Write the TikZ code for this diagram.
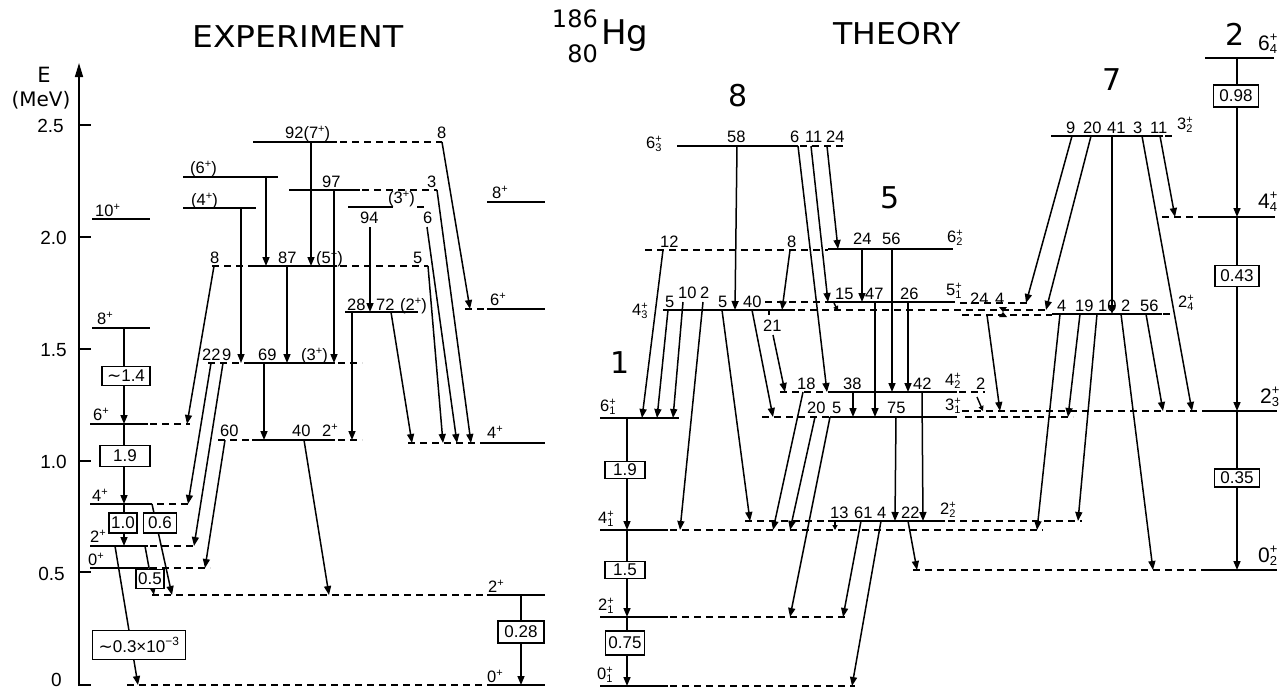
\documentclass[tikz,border=0pt]{standalone}
\usepackage{fontspec}
\setmainfont{DejaVu Sans}
\newfontfamily\labf{Liberation Sans}
\usetikzlibrary{arrows.meta}
\newcommand\tld{{\normalfont ∼}}
\newcommand\pl{\raisebox{5.5pt}{\fontsize{11}{11}\selectfont+}}
\newcommand\lv[2]{#1\rlap{\raisebox{6pt}{\fontsize{11}{11}\selectfont+}}\raisebox{-3.5pt}{\fontsize{11}{11}\selectfont#2}}
\newcommand\lvB[2]{#1\rlap{\raisebox{9pt}{\fontsize{13}{13}\selectfont+}}\raisebox{-3pt}{\fontsize{13}{13}\selectfont#2}}
\newcommand\Ls[3]{\draw[lev] (#1,#3) -- (#2,#3);}
\newcommand\Ld[3]{\draw[dlev] (#1,#3) -- (#2,#3);}
\newcommand\Tr[4]{\draw[tr] (#1,#2) -- (#3,#4);}
\newcommand\La[3]{\node[lab] at (#1,#2) {#3};}
\begin{document}
\begin{tikzpicture}[x=1pt,y=-1pt,
 lev/.style={line width=2.7pt},
 dlev/.style={line width=1.9pt,dash pattern=on 7pt off 5pt},
 tr/.style={line width=1.5pt,-{Triangle[length=9pt,width=7pt]}},
 tinyarr/.style={line width=1.4pt,-{Triangle[length=5pt,width=5pt]}},
 lab/.style={anchor=base west,inner sep=0pt,font=\labf\fontsize{16.5}{16.5}\selectfont},
 labB/.style={anchor=base west,inner sep=0pt,font=\labf\fontsize{21}{21}\selectfont},
 tk/.style={anchor=base east,inner sep=0pt,font=\labf\fontsize{19}{19}\selectfont},
 bx/.style={draw,line width=1.5pt,fill=white,inner sep=0pt,font=\labf\fontsize{17}{17}\selectfont},
 big/.style={inner sep=0pt,font=\fontsize{30}{30}\selectfont}]
\useasboundingbox (0,0) rectangle (1285,691);

% ---------------- titles
\node[big,xscale=1.1] (texp) at (298,37) {EXPERIMENT};
\node[big,xscale=1.05] (tth) at (897,34) {THEORY};
\node[anchor=base east,inner sep=0pt,font=\fontsize{24}{24}\selectfont] (mass) at (598,27) {186};
\node[anchor=base east,inner sep=0pt,font=\fontsize{24}{24}\selectfont] (zz) at (598,62) {80};
\node[anchor=base west,inner sep=0pt,font=\fontsize{34}{34}\selectfont] (hg) at (601,44) {Hg};

% ---------------- axis
\draw[line width=1.6pt,-{Triangle[length=14pt,width=8pt]}] (79,686) -- (79,63);
\foreach \yy in {125,237,349,461,572,685} \draw[line width=1.6pt] (79,\yy) -- (91,\yy);
\node[inner sep=0pt,font=\fontsize{21}{21}\selectfont] (eax) at (44,75) {E};
\node[inner sep=0pt,font=\fontsize{20}{20}\selectfont] (mev) at (41,100) {(MeV)};
\node[tk] at (64,132) {2.5};
\node[tk] at (67,244) {2.0};
\node[tk] at (67,356) {1.5};
\node[tk] at (67,468) {1.0};
\node[tk] at (65,580) {0.5};
\node[tk] at (62,686) {0};

% ---------------- EXPERIMENT levels
\Ls{92}{150}{219}
\Ls{92}{150}{328}
\Ls{90}{148}{424} \Ld{150}{190}{424}
\Ls{90}{152}{504} \Ld{157}{190}{504}
\Ls{90}{148}{546} \Ld{150}{195}{546}
\Ls{90}{148}{568} \Ld{150}{210}{568}
\Ld{152}{487}{595} \Ls{487}{545}{595}
\Ld{127}{487}{685} \Ls{487}{545}{685}
\Ld{408}{487}{443} \Ls{487}{545}{443}
\Ld{465}{487}{309} \Ls{487}{545}{309}
\Ls{487}{545}{202}
\Ls{183}{278}{177}
\Ls{183}{256}{208}
\Ls{253}{337}{142} \Ld{340}{442}{142}
\Ls{289}{360}{190} \Ld{362}{437}{190}
\Ls{348}{393}{207} \Ld{417}{427}{207}
\Ld{212}{250}{266} \Ls{250}{337}{266} \Ld{340}{428}{266}
\Ls{345}{418}{312}
\Ld{208}{250}{363} \Ls{250}{335}{363} \Ld{338}{362}{363}
\Ld{218}{252}{440} \Ls{252}{335}{440} \Ld{338}{362}{440}

% ---------------- EXPERIMENT transitions
\Tr{124}{328}{124}{424}
\Tr{124}{424}{124}{504}
\Tr{124}{504}{124}{546}
\Tr{115}{546}{138}{685}
\Tr{152}{504}{172}{595}
\Tr{145}{546}{154}{595}
\Tr{521}{595}{521}{685}
\Tr{266}{177}{266}{266}
\Tr{311}{142}{311}{266}
\Tr{334}{190}{334}{363}
\Tr{241}{208}{241}{363}
\Tr{287}{266}{287}{363}
\Tr{264}{363}{264}{440}
\Tr{370}{227}{370}{312}
\Tr{352}{312}{352}{440}
\Tr{391}{312}{412}{443}
\Tr{428}{266}{443}{443}
\Tr{427}{227}{457}{443}
\Tr{437}{190}{471}{443}
\Tr{442}{142}{470}{309}
\Tr{214}{266}{187}{424}
\Tr{211}{363}{188}{504}
\Tr{223}{363}{194}{546}
\Tr{225}{440}{205}{568}
\Tr{304}{440}{329}{595}

% ---------------- EXPERIMENT boxes
\node[bx,minimum width=48pt,minimum height=19pt] (b1) at (126,376) {\tld1.4};
\node[bx,minimum width=50pt,minimum height=21pt] (b2) at (125,456) {1.9};
\node[bx,minimum width=28pt,minimum height=20pt] (b3) at (123,523) {1.0};
\node[bx,minimum width=33pt,minimum height=20pt] (b4) at (160,523) {0.6};
\node[bx,minimum width=28pt,minimum height=19pt] (b5) at (150,579) {0.5};
\node[bx,minimum width=93pt,minimum height=29pt] (b6) at (139,645) {\tld0.3×10\textsuperscript{−3}};
\node[bx,minimum width=46pt,minimum height=22pt] (b7) at (521,632) {0.28};

% ---------------- EXPERIMENT labels
\La{95}{216}{10\pl}
\La{97}{324}{8\pl}
\La{93}{420}{6\pl}
\La{92}{501}{4\pl}
\La{90}{542}{2\pl}
\La{88}{565}{0\pl}
\La{190}{173}{(6\pl)}
\La{191}{205}{(4\pl)}
\La{285}{138}{92(7\pl)}
\La{437}{138}{8}
\La{322}{187}{97}
\La{427}{187}{3}
\La{388}{203}{(3\pl)}
\La{360}{223}{94}
\La{423}{223}{6}
\La{210}{263}{8}
\La{278}{263}{87}
\La{316}{263}{(5\pl)}
\La{413}{263}{5}
\La{347}{310}{28}
\La{376}{310}{72}
\La{400}{310}{(2\pl)}
\La{202}{360}{22}
\La{222}{360}{9}
\La{258}{360}{69}
\La{301}{360}{(3\pl)}
\La{220}{436}{60}
\La{292}{436}{40}
\La{322}{436}{2\pl}
\La{492}{198}{8\pl}
\La{490}{305}{6\pl}
\La{487}{438}{4\pl}
\La{488}{592}{2\pl}
\La{487}{682}{0\pl}

% ---------------- THEORY levels
\Ls{600}{679}{418}
\Ls{600}{668}{530} \Ld{670}{1043}{530}
\Ls{600}{668}{617} \Ld{670}{847}{617}
\Ls{600}{668}{686} \Ld{670}{855}{686}
\Ls{677}{798}{146} \Ld{800}{843}{146}
\Ld{645}{828}{250} \Ls{828}{953}{249}
\Ls{663}{795}{310} \Ld{798}{1047}{310}
\Ld{765}{828}{302} \Ls{828}{955}{302} \Ld{960}{1030}{303}
\Ld{962}{1052}{315} \Ls{1052}{1162}{314} \Ld{1163}{1173}{314}
\Ls{1051}{1163}{136} \Ld{1165}{1175}{136}
\Ls{1205}{1274}{58}
\Ld{1162}{1205}{217} \Ls{1205}{1275}{217}
\Ld{780}{828}{392} \Ls{828}{957}{392} \Ld{959}{985}{392}
\Ld{762}{830}{417} \Ls{830}{957}{417} \Ld{965}{1073}{417}
\Ld{962}{1208}{411} \Ls{1208}{1277}{411}
\Ld{745}{828}{521} \Ls{828}{945}{521} \Ld{948}{1082}{521}
\Ld{913}{1208}{570} \Ls{1208}{1277}{570}

% ---------------- THEORY transitions
\Tr{627}{418}{627}{530}
\Tr{627}{530}{627}{617}
\Tr{627}{617}{627}{686}
\Tr{1237}{58}{1237}{217}
\Tr{1237}{217}{1237}{411}
\Tr{1237}{411}{1237}{570}
\Tr{737}{146}{735}{310}
\Tr{798}{146}{827}{392}
\Tr{811}{146}{828}{302}
\Tr{827}{146}{838}{249}
\Tr{663}{250}{642}{418}
\Tr{790}{250}{782}{310}
\Tr{862}{249}{862}{302}
\Tr{892}{249}{892}{392}
\Tr{668}{310}{657}{418}
\Tr{683}{302}{673}{418}
\Tr{703}{302}{680}{530}
\Tr{722}{310}{750}{521}
\Tr{752}{310}{773}{417}
\draw[line width=1.4pt] (769,310) -- (769,315);
\Tr{773}{335}{785}{392}
\draw[tinyarr] (834,303) -- (838,311);
\Tr{875}{302}{875}{417}
\Tr{908}{302}{908}{392}
\Tr{803}{392}{773}{530}
\Tr{853}{392}{853}{417}
\Tr{922}{392}{923}{521}
\draw[tinyarr] (977,397) -- (983,411);
\Tr{815}{417}{790}{530}
\Tr{830}{417}{790}{617}
\Tr{896}{417}{895}{521}
\draw[tinyarr] (835,521) -- (835,530);
\Tr{861}{521}{843}{617}
\Tr{881}{521}{852}{686}
\Tr{908}{521}{917}{570}
\Tr{987}{315}{1000}{411}
\fill (999,307) -- (1007,307) -- (1003,312) -- cycle;
\fill (999,317) -- (1007,317) -- (1003,312) -- cycle;
\Tr{1072}{136}{1026}{303}
\Tr{1091}{136}{1046}{310}
\Tr{1112}{136}{1112}{314}
\Tr{1142}{136}{1192}{411}
\Tr{1160}{136}{1175}{217}
\Tr{1060}{314}{1037}{530}
\Tr{1080}{314}{1068}{417}
\Tr{1097}{314}{1078}{521}
\Tr{1121}{314}{1153}{570}
\Tr{1146}{314}{1163}{411}

% ---------------- THEORY boxes
\node[bx,minimum width=40pt,minimum height=17pt] (c1) at (625,470) {1.9};
\node[bx,minimum width=40pt,minimum height=17pt] (c2) at (625,570) {1.5};
\node[bx,minimum width=39pt,minimum height=24pt] (c3) at (625,643) {0.75};
\node[bx,minimum width=45pt,minimum height=22pt] (c4) at (1236,96) {0.98};
\node[bx,minimum width=44pt,minimum height=21pt] (c5) at (1237,276) {0.43};
\node[bx,minimum width=45pt,minimum height=18pt] (c6) at (1237,478) {0.35};

% ---------------- THEORY band numbers
\node[big] (n8) at (738,96) {8};
\node[big] (n5) at (890,198) {5};
\node[big] (n7) at (1112,80) {7};
\node[big] (n1) at (620,363) {1};
\node[big] (n2) at (1235,34) {2};

% ---------------- THEORY labels
\La{646}{148}{\lv{6}{3}}
\La{727}{142}{58} \La{790}{142}{6} \La{805}{142}{11} \La{826}{142}{24}
\La{660}{247}{12} \La{787}{247}{8}
\La{853}{244}{24} \La{882}{244}{56} \La{947}{242}{\lv{6}{2}}
\La{632}{315}{\lv{4}{3}}
\La{665}{307}{5} \La{678}{298}{10} \La{700}{298}{2} \La{718}{307}{5} \La{743}{307}{40}
\La{763}{331}{21}
\La{835}{299}{15} \La{865}{299}{47} \La{900}{299}{26} \La{946}{295}{\lv{5}{1}}
\La{970}{304}{24} \La{995}{304}{4}
\La{797}{389}{18} \La{843}{389}{38} \La{913}{389}{42} \La{945}{385}{\lv{4}{2}} \La{976}{389}{2}
\La{807}{413}{20} \La{832}{413}{5} \La{887}{413}{75} \La{945}{410}{\lv{3}{1}}
\La{830}{518}{13} \La{854}{518}{61} \La{877}{518}{4} \La{901}{518}{22} \La{940}{514}{\lv{2}{2}}
\La{1066}{133}{9} \La{1083}{133}{20} \La{1107}{133}{41} \La{1133}{133}{3} \La{1150}{133}{11} \La{1177}{129}{\lv{3}{2}}
\La{1057}{311}{4} \La{1075}{311}{19} \La{1098}{311}{10} \La{1121}{311}{2} \La{1140}{311}{56} \La{1178}{307}{\lv{2}{4}}
\node[labB] at (1258,50) {\lvB{6}{4}};
\node[labB] at (1258,208) {\lvB{4}{4}};
\node[labB] at (1260,403) {\lvB{2}{3}};
\node[labB] at (1258,562) {\lvB{0}{2}};
\La{600}{411}{\lv{6}{1}}
\La{598}{523}{\lv{4}{1}}
\La{598}{610}{\lv{2}{1}}
\La{597}{679}{\lv{0}{1}}
\end{tikzpicture}
\end{document}
